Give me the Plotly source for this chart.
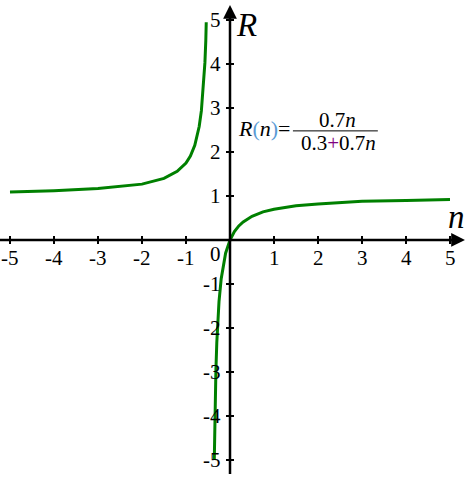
import plotly.graph_objects as go

# values
n_left = [-5, -4, -3, -2, -1.5, -1.2, -1, -0.9, -0.8, -0.7, -0.65, -0.6, -0.57, -0.55, -0.54]
r_left = [1.09, 1.12, 1.17, 1.27, 1.4, 1.56, 1.75, 1.91, 2.15, 2.58, 2.94, 3.5, 4.03, 4.53, 4.95]
n_right = [-0.357, -0.35, -0.34, -0.32, -0.3, -0.25, -0.2, -0.1, 0, 0.1, 0.2, 0.3, 0.5, 0.75, 1, 1.5, 2, 3, 4, 5]
r_right = [-5, -4.45, -3.84, -2.95, -2.33, -1.4, -0.88, -0.3, 0, 0.19, 0.32, 0.41, 0.54, 0.64, 0.7, 0.78, 0.82, 0.88, 0.9, 0.92]
x_ticks = [-5, -4, -3, -2, -1, 1, 2, 3, 4, 5]
y_ticks = [-5, -4, -3, -2, -1, 1, 2, 3, 4, 5]

green = "#008000"
serif = "Liberation Serif"
px = 1 / 44  # one pixel in data units

fig = go.Figure()
fig.add_trace(go.Scatter(x=n_left, y=r_left, mode="lines",
                         line=dict(color=green, width=3), hoverinfo="skip"))
fig.add_trace(go.Scatter(x=n_right, y=r_right, mode="lines",
                         line=dict(color=green, width=3), hoverinfo="skip"))

shapes = []
annotations = []

# axes with arrows
annotations.append(dict(x=5.34, y=0, ax=-5.3, ay=0, xref="x", yref="y", axref="x", ayref="y",
                        text="", showarrow=True, arrowhead=2, arrowsize=1.1, arrowwidth=2.5, arrowcolor="black"))
annotations.append(dict(x=0, y=5.34, ax=0, ay=-5.35, xref="x", yref="y", axref="x", ayref="y",
                        text="", showarrow=True, arrowhead=2, arrowsize=1.1, arrowwidth=2.5, arrowcolor="black"))

for t in x_ticks:
    shapes.append(dict(type="line", x0=t, x1=t, y0=-4 * px, y1=4 * px, xref="x", yref="y",
                       line=dict(color="black", width=2)))
    annotations.append(dict(x=t, y=-0.41, text=str(t), showarrow=False,
                            font=dict(family=serif, size=21, color="black")))
for t in y_ticks:
    shapes.append(dict(type="line", y0=t, y1=t, x0=-4 * px, x1=4 * px, xref="x", yref="y",
                       line=dict(color="black", width=2)))
    annotations.append(dict(x=-0.16, y=t, text=str(t), showarrow=False, xanchor="right",
                            font=dict(family=serif, size=21, color="black")))
annotations.append(dict(x=-0.16, y=-0.32, text="0", showarrow=False, xanchor="right",
                        font=dict(family=serif, size=21, color="black")))

# axis names
annotations.append(dict(x=0.38, y=4.88, text="<i>R</i>", showarrow=False,
                        font=dict(family=serif, size=33, color="black")))
annotations.append(dict(x=5.14, y=0.52, text="<i>n</i>", showarrow=False,
                        font=dict(family=serif, size=33, color="black")))

# formula
annotations.append(dict(x=1.43, y=2.54,
                        text="<i>R</i><span style='color:#5b9bd5'>(</span><i>n</i><span style='color:#5b9bd5'>)</span>=",
                        showarrow=False, xanchor="right",
                        font=dict(family=serif, size=22, color="black")))
annotations.append(dict(x=2.45, y=2.48, text="0.7<i>n</i>", showarrow=False,
                        yanchor="bottom", borderpad=0, yshift=-2,
                        font=dict(family=serif, size=21, color="black")))
annotations.append(dict(x=2.46, y=2.48, text="0.3<span style='color:#800080'>+</span>0.7<i>n</i>", showarrow=False,
                        yanchor="top", borderpad=0, yshift=1,
                        font=dict(family=serif, size=21, color="black")))
shapes.append(dict(type="line", x0=1.43, x1=3.36, y0=2.48, y1=2.48, xref="x", yref="y",
                   line=dict(color="black", width=1)))

fig.update_layout(
    width=468, height=479,
    margin=dict(l=0, r=0, t=0, b=0),
    paper_bgcolor="white", plot_bgcolor="white",
    showlegend=False,
    xaxis=dict(range=[-5.227, 5.409], visible=False, showgrid=False, zeroline=False),
    yaxis=dict(range=[-5.432, 5.4545], visible=False, showgrid=False, zeroline=False),
    shapes=shapes, annotations=annotations,
)

fig.write_html("out.html", config={"displayModeBar": False},
               post_script="document.body.style.margin='0';")
